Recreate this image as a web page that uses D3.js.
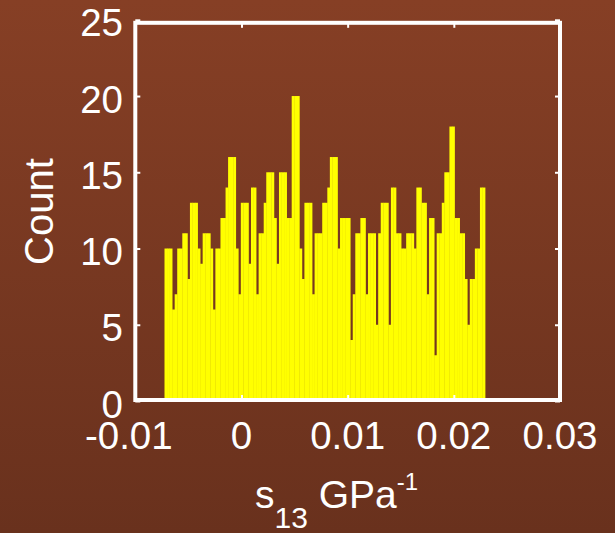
<!DOCTYPE html>
<html>
<head>
<meta charset="utf-8">
<script src="https://cdn.jsdelivr.net/npm/d3@7"></script>
<style>
  html, body { margin: 0; padding: 0; }
  body { width: 615px; height: 533px; overflow: hidden; }
  svg { display: block; }
  text { font-family: "Liberation Sans", Arial, Helvetica, sans-serif; fill: #ffffff; }
</style>
</head>
<body>
<svg id="chart" width="615" height="533"></svg>
<script>
// ---------------- data ----------------
const binStart = -0.00725;      // left edge of first bin (GPa^-1)
const binWidth = 0.0002396;     // bin width (GPa^-1)
const counts = [
  10,10,10,6,7,10,10,11,11,8,
  13,13,13,10,9,11,11,11,10,6,
  10,10,12,12,14,16,16,16,10,7,
  13,13,13,9,14,14,7,11,11,13,
  15,15,15,12,9,15,15,15,12,12,
  20,20,20,10,8,13,13,13,7,11,
  11,11,13,13,14,16,16,16,10,12,
  12,12,12,4,7,11,11,12,12,7,
  11,11,11,5,11,13,13,13,5,14,
  14,11,11,10,10,11,11,11,10,14,
  14,13,13,7,12,12,3,11,11,13,
  15,15,18,18,12,12,11,11,8,5,
  8,8,10,10,14,14
];
const xTicks = [-0.01, 0, 0.01, 0.02, 0.03];
const xTickLabels = ["-0.01", "0", "0.01", "0.02", "0.03"];
const yTicks = [0, 5, 10, 15, 20, 25];
const yTickLabels = ["0", "5", "10", "15", "20", "25"];
const xDomain = [-0.01, 0.03];
const yDomain = [0, 25];
const yLabel = "Count";

// ---------------- layout ----------------
(function draw() {
const svg = d3.select("#chart");
const pL = 135.3, pR = 560, pT = 19.8, pB = 401;

const defs = svg.append("defs");
const grad = defs.append("linearGradient").attr("id", "bg")
  .attr("x1", 0).attr("y1", 0).attr("x2", 0).attr("y2", 1);
grad.append("stop").attr("offset", "0%").attr("stop-color", "#863f25");
grad.append("stop").attr("offset", "100%").attr("stop-color", "#69311d");
svg.append("rect").attr("width", 615).attr("height", 533).attr("fill", "url(#bg)");

const x = d3.scaleLinear().domain(xDomain).range([pL, pR]);
const y = d3.scaleLinear().domain(yDomain).range([pB, pT]);

// bars
const bw = x(binWidth) - x(0);
svg.append("g").selectAll("rect").data(counts).join("rect")
  .attr("x", (d, i) => x(binStart + i * binWidth))
  .attr("width", bw + 0.35)
  .attr("y", d => y(d))
  .attr("height", d => y(0) - y(d))
  .attr("fill", "#ffff00");

// axes box
const boxTop = 22.8, boxBottom = 400;
svg.append("rect")
  .attr("x", pL).attr("y", boxTop)
  .attr("width", pR - pL).attr("height", boxBottom - boxTop)
  .attr("fill", "none").attr("stroke", "#ffffff").attr("stroke-width", 4);

// inward ticks using d3 axes
const tickLen = 5;
const axL = svg.append("g").attr("transform", `translate(${pL},0)`)
  .call(d3.axisRight(y).tickValues(yTicks).tickSize(tickLen).tickFormat(""));
const axR = svg.append("g").attr("transform", `translate(${pR},0)`)
  .call(d3.axisLeft(y).tickValues(yTicks).tickSize(tickLen).tickFormat(""));
const axB = svg.append("g").attr("transform", `translate(0,${boxBottom})`)
  .call(d3.axisTop(x).tickValues(xTicks).tickSize(tickLen).tickFormat(""));
const axT = svg.append("g").attr("transform", `translate(0,${boxTop})`)
  .call(d3.axisBottom(x).tickValues(xTicks).tickSize(tickLen).tickFormat(""));
[axL, axR, axB, axT].forEach(g => {
  g.select(".domain").remove();
  g.selectAll("line").attr("stroke", "#ffffff").attr("stroke-width", 2);
});

// tick labels
svg.append("g").selectAll("text").data(yTicks).join("text")
  .attr("x", 123).attr("y", d => y(d) + 16.5)
  .attr("text-anchor", "end").attr("font-size", 38.5)
  .text((d, i) => yTickLabels[i]);

svg.append("g").selectAll("text").data(xTicks).join("text")
  .attr("x", d => x(d) - (d < 0 ? 6.5 : 0)).attr("y", 449)
  .attr("text-anchor", "middle").attr("font-size", 38.5)
  .text((d, i) => xTickLabels[i]);

// y label
svg.append("text")
  .attr("transform", "translate(52.5,211.6) rotate(-90)")
  .attr("text-anchor", "middle").attr("font-size", 40)
  .text(yLabel);

// x label: s_13 GPa^-1
const xl = svg.append("text").attr("x", 255).attr("y", 508).attr("font-size", 39);
xl.append("tspan").text("s");
xl.append("tspan").attr("font-size", 30).attr("dy", 20).text("13");
xl.append("tspan").attr("dy", -20).text(" GPa");
xl.append("tspan").attr("font-size", 24).attr("dy", -18).text("-1");
})();
</script>
</body>
</html>
